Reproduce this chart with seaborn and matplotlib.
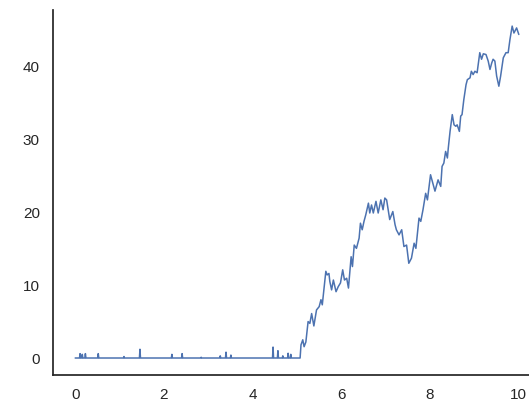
import numpy as np
import pandas as pd
import seaborn as sns
import matplotlib
matplotlib.use("Agg")
import matplotlib.pyplot as plt

# Quiet stretch: level at zero with brief blips
blip_x = [0.11, 0.16, 0.23, 0.52, 1.10, 1.46, 2.18, 2.41, 2.84, 3.27, 3.40, 3.51,
          4.46, 4.57, 4.68, 4.80, 4.86]
blip_h = [0.6, 0.5, 0.6, 0.6, 0.2, 1.2, 0.5, 0.6, 0.1, 0.3, 0.8, 0.4,
          1.5, 1.0, 0.3, 0.65, 0.5]

# Growth stretch
rise_x = [5.07, 5.09, 5.13, 5.16, 5.20, 5.25, 5.29, 5.33, 5.38, 5.44, 5.50, 5.54, 5.57,
          5.65, 5.68, 5.72, 5.74, 5.78, 5.82, 5.88, 5.93, 5.98, 6.03, 6.07, 6.12, 6.16,
          6.22, 6.25, 6.29, 6.34, 6.40, 6.43, 6.47, 6.51, 6.55, 6.61, 6.64, 6.68, 6.72,
          6.78, 6.83, 6.89, 6.94, 6.98, 7.02, 7.09, 7.16, 7.21, 7.24, 7.30, 7.36, 7.41,
          7.47, 7.52, 7.58, 7.64, 7.68, 7.75, 7.79, 7.84, 7.90, 7.94, 8.01, 8.05, 8.11,
          8.18, 8.24, 8.27, 8.31, 8.35, 8.39, 8.41, 8.45, 8.50, 8.54, 8.58, 8.61, 8.66,
          8.69, 8.72, 8.76, 8.81, 8.84, 8.90, 8.93, 8.97, 9.01, 9.06, 9.12, 9.16, 9.20,
          9.26, 9.31, 9.35, 9.39, 9.42, 9.46, 9.50, 9.55, 9.59, 9.65, 9.71, 9.76, 9.80,
          9.85, 9.89, 9.95, 10.00]
rise_y = [0.0, 1.8, 2.5, 1.55, 2.2, 5.0, 4.75, 6.1, 4.4, 6.6, 7.05, 8.0, 7.3,
          11.9, 11.4, 11.6, 10.5, 9.35, 10.7, 9.1, 9.8, 10.3, 12.1, 10.7, 10.95, 9.6,
          13.9, 12.55, 15.5, 15.05, 16.45, 18.5, 17.6, 18.75, 19.65, 21.25, 19.9, 21.0, 19.9,
          21.5, 19.9, 21.7, 20.35, 21.95, 21.7, 19.0, 20.1, 18.3, 17.6, 16.9, 17.6, 15.3,
          15.5, 13.0, 13.7, 15.75, 15.05, 19.2, 18.75, 20.35, 22.6, 21.7, 25.15, 24.25, 22.9,
          24.45, 23.55, 26.3, 26.75, 28.35, 27.45, 28.8, 31.1, 33.4, 32.0, 31.8, 32.0, 31.1,
          33.2, 33.4, 35.45, 37.5, 38.2, 38.45, 39.35, 38.9, 39.35, 39.15, 41.9, 41.0, 41.75,
          41.65, 40.75, 39.6, 40.5, 41.0, 40.75, 38.7, 37.3, 38.7, 41.2, 41.9, 41.9, 43.7,
          45.55, 44.6, 45.3, 44.4]

# Assemble the full path: zero baseline with narrow blips, then the growth part
xs = [0.0]
ys = [0.0]
for bx, bh in zip(blip_x, blip_h):
    xs += [bx - 0.012, bx, bx + 0.012]
    ys += [0.0, bh, 0.0]
xs += rise_x
ys += rise_y
df = pd.DataFrame({"x": xs, "y": ys})

sns.set_theme(style="white")
plt.rcParams["font.family"] = ["Liberation Sans", "DejaVu Sans"]

fig = plt.figure(figsize=(5.29, 4.03), dpi=100)
ax = fig.add_axes([53 / 529, 28.4 / 403, 488 / 529, 365.1 / 403])
sns.lineplot(data=df, x="x", y="y", ax=ax, estimator=None, sort=False,
             color="#4C72B0", linewidth=1.1)
ax.set_xlabel("")
ax.set_ylabel("")
ax.set_xticks([0, 2, 4, 6, 8, 10])
ax.set_yticks([0, 10, 20, 30, 40])
ax.tick_params(labelsize=11)
sns.despine(ax=ax)
fig.savefig("out.png", dpi=100)
